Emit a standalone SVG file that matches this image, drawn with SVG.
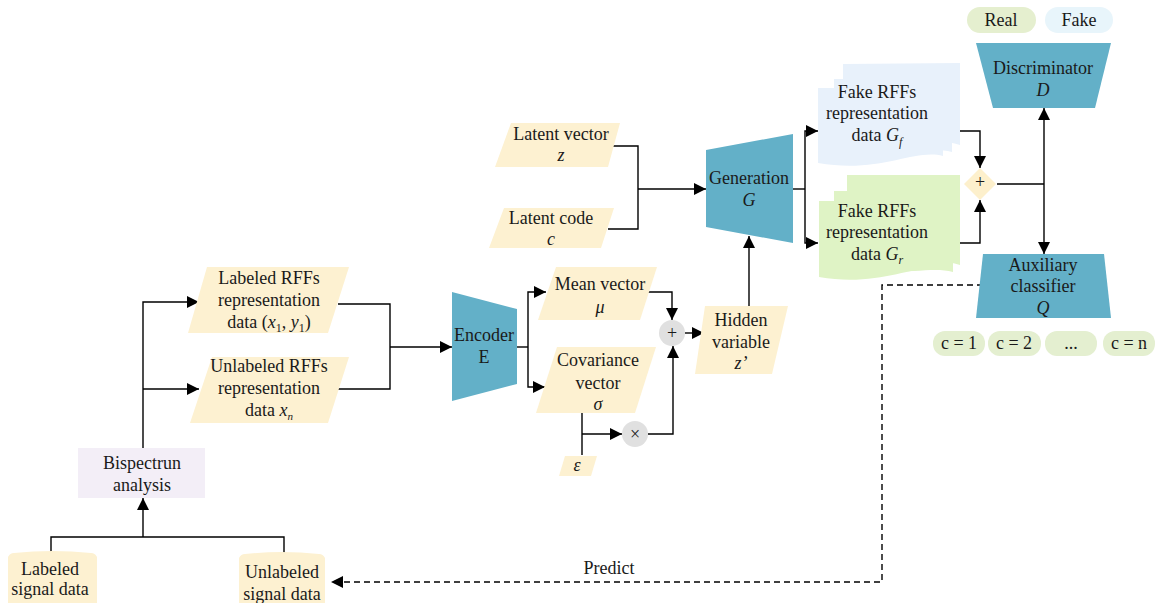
<svg xmlns="http://www.w3.org/2000/svg" width="1158" height="603" viewBox="0 0 1158 603">
<defs>
<marker id="ah" viewBox="0 0 12 12" refX="12" refY="6" markerWidth="12" markerHeight="12" markerUnits="userSpaceOnUse" orient="auto-start-reverse">
<path d="M0,0 L12,6 L0,12 Z" fill="#000"/>
</marker>
<style>
text{font-family:"Liberation Serif","Times New Roman",serif;fill:#1a1a1a;font-size:18px;text-anchor:middle}
.i{font-style:italic}
.para{fill:#fdf1d1}
.trap{fill:#63b0c8}
.circ{fill:#e0e0e0}
.c line,.c path,.c polyline{stroke:#000;stroke-width:1.4;fill:none}
.dash{stroke-dasharray:6 4}
.pill{fill:#e4efd0}
</style>
</defs>
<rect width="1158" height="603" fill="#fff"/>

<g id="connectors" class="c">
<polyline points="143,448 143,302 199,302" marker-end="url(#ah)"/>
<polyline points="143,389 199,389" marker-end="url(#ah)"/>
<polyline points="51,553 51,537 284,537 284,555"/>
<polyline points="143,537 143,498" marker-end="url(#ah)"/>
<polyline points="338,304 390,304 390,389 338,389"/>
<polyline points="390,347 452,347" marker-end="url(#ah)"/>
<polyline points="517,347 528,347"/>
<polyline points="546,292 528,292 528,387 545,387" marker-end="url(#ah)" marker-start="url(#ah)"/>
<polyline points="647,292 672,292 672,320" marker-end="url(#ah)"/>
<polyline points="685,333 704,333" marker-end="url(#ah)"/>
<polyline points="582,413 582,455"/>
<polyline points="582,434 622,434" marker-end="url(#ah)"/>
<polyline points="648,434 673,434 673,346" marker-end="url(#ah)"/>
<polyline points="749,306 749,236" marker-end="url(#ah)"/>
<polyline points="613,146 638,146 638,229 608,229"/>
<polyline points="638,189 706,189" marker-end="url(#ah)"/>
<polyline points="793,189 805,189"/>
<polyline points="818,131 805,131 805,243 818,243" marker-end="url(#ah)" marker-start="url(#ah)"/>
<polyline points="927,131 980,131 980,168" marker-end="url(#ah)"/>
<polyline points="947,243 980,243 980,200" marker-end="url(#ah)"/>
<polyline points="997,184 1044,184"/>
<polyline points="1044,108 1044,254" marker-end="url(#ah)" marker-start="url(#ah)"/>
<polyline class="dash" points="983,285 882,285 882,582 331,582" marker-end="url(#ah)"/>
</g>

<g id="real-label"><rect x="967" y="7" width="69" height="26" rx="13" fill="#e5efcf"/><text x="1001" y="26">Real</text></g>
<g id="fake-label"><rect x="1045" y="7" width="68" height="26" rx="13" fill="#e8f5fb"/><text x="1079" y="26">Fake</text></g>

<g id="discriminator"><polygon class="trap" points="976,43 1111,43 1095,108 993,108"/><text x="1043" y="74" font-size="19">Discriminator</text><text x="1043" y="96" class="i" font-size="19">D</text></g>
<g id="aux-classifier"><polygon class="trap" points="983,254 1104,254 1111,318 976,318"/><text x="1043" y="271" font-size="19">Auxiliary</text><text x="1043" y="292" font-size="19">classifier</text><text x="1043" y="314" class="i" font-size="19">Q</text></g>

<g id="c1"><rect x="933" y="331" width="52" height="25" rx="12" class="pill"/><text x="959" y="349" font-size="17">c = 1</text></g>
<g id="c2"><rect x="988" y="331" width="53" height="25" rx="12" class="pill"/><text x="1014" y="349" font-size="17">c = 2</text></g>
<g id="cdots"><rect x="1045" y="331" width="52" height="25" rx="12" class="pill"/><text x="1071" y="349" font-size="17">...</text></g>
<g id="cn"><rect x="1103" y="331" width="52" height="25" rx="12" class="pill"/><text x="1129" y="349" font-size="17">c = n</text></g>

<g id="fake-gf" fill="#e8f1fb">
<path d="M843,64 L960,63 L960,145 C940,138 925,146 843,140 Z"/>
<path d="M834,79 L952,79 L952,152 C930,146 910,156 834,150 Z"/>
<path d="M818,88 L943,88 L943,156 C915,148 880,174 818,163 Z"/>
<text x="877" y="98" font-size="17">Fake RFFs</text><text x="877" y="119" font-size="17">representation</text><text x="877" y="141" font-size="17">data <tspan class="i">G</tspan><tspan class="i" font-size="12" dy="5">f</tspan></text>
</g>
<g id="fake-gr" fill="#dff3c5">
<path d="M847,175 L960,175 L960,265 C940,258 925,266 847,260 Z"/>
<path d="M834,191 L953,191 L953,272 C930,266 910,276 834,270 Z"/>
<path d="M819,201 L947,201 L947,270 C915,262 880,288 819,277 Z"/>
<text x="877" y="217" font-size="17">Fake RFFs</text><text x="877" y="238" font-size="17">representation</text><text x="877" y="260" font-size="17">data <tspan class="i">G</tspan><tspan class="i" font-size="12" dy="4">r</tspan></text>
</g>
<g id="merge"><polygon points="980,168 996,184 980,200 964,184" fill="#fdf0cc"/><text x="980" y="188" font-size="10">+</text></g>

<g id="generation"><polygon class="trap" points="706,150 793,134 793,243 706,227"/><text x="749" y="184">Generation</text><text x="749" y="206" class="i">G</text></g>

<g id="latent-vector"><polygon class="para" points="511,123 620,123 608,167 495,167"/><text x="561" y="140">Latent vector</text><text x="561" y="161" class="i">z</text></g>
<g id="latent-code"><polygon class="para" points="504,208 614,208 601,248 489,248"/><text x="551" y="224">Latent code</text><text x="551" y="245" class="i">c</text></g>

<g id="encoder"><polygon class="trap" points="452,292 517,309 517,384 452,401"/><text x="484" y="341">Encoder</text><text x="484" y="363">E</text></g>

<g id="mean-vector"><polygon class="para" points="556,267 657,267 640,320 538,320"/><text x="600" y="290">Mean vector</text><text x="600" y="313" class="i">μ</text></g>
<g id="cov-vector"><polygon class="para" points="557,347 656,347 635,413 536,413"/><text x="598" y="366">Covariance</text><text x="598" y="389">vector</text><text x="598" y="410" class="i">σ</text></g>

<g id="plus"><circle cx="672" cy="333" r="13" class="circ"/><text x="672" y="339" fill="#444" font-size="17">+</text></g>
<g id="times"><circle cx="635" cy="434" r="13" class="circ"/><text x="635" y="440" fill="#444" font-size="17">×</text></g>

<g id="epsilon"><polygon class="para" points="565,456 597,456 591,476 559,476"/><text x="577" y="471" class="i">ε</text></g>

<g id="hidden"><polygon class="para" points="705,306 788,306 772,374 695,374"/><text x="741" y="326">Hidden</text><text x="741" y="348">variable</text><text x="741" y="369" class="i">z’</text></g>

<g id="labeled-rffs"><polygon class="para" points="207,267 349,267 328,333 188,333"/><text x="269" y="284">Labeled RFFs</text><text x="269" y="306">representation</text><text x="269" y="328">data (<tspan class="i">x</tspan><tspan font-size="12" dy="4">1</tspan><tspan dy="-4">, </tspan><tspan class="i">y</tspan><tspan font-size="12" dy="4">1</tspan><tspan dy="-4">)</tspan></text></g>
<g id="unlabeled-rffs"><polygon class="para" points="212,357 349,357 328,423 190,423"/><text x="269" y="372" font-size="16">Unlabeled RFFs</text><text x="269" y="394" font-size="16">representation</text><text x="269" y="416" font-size="16">data <tspan class="i">x</tspan><tspan class="i" font-size="11" dy="4">n</tspan></text></g>

<g id="bispectrun"><rect x="78" y="448" width="127" height="50" fill="#f3eef7"/><text x="142" y="469">Bispectrun</text><text x="142" y="491">analysis</text></g>

<g id="labeled-signal"><path d="M8,557 Q10,553 14,553 Q52,549 91,553 Q95,553 97,557 L97,603 L8,603 Z" fill="#fdf1d1"/><text x="50" y="575">Labeled</text><text x="50" y="595">signal data</text></g>
<g id="unlabeled-signal"><path d="M239,558 Q241,554 245,554 Q282,550 319,554 Q323,554 325,558 L325,603 L239,603 Z" fill="#fdf1d1"/><text x="282" y="578">Unlabeled</text><text x="282" y="600">signal data</text></g>

<text x="609" y="574">Predict</text>
</svg>
